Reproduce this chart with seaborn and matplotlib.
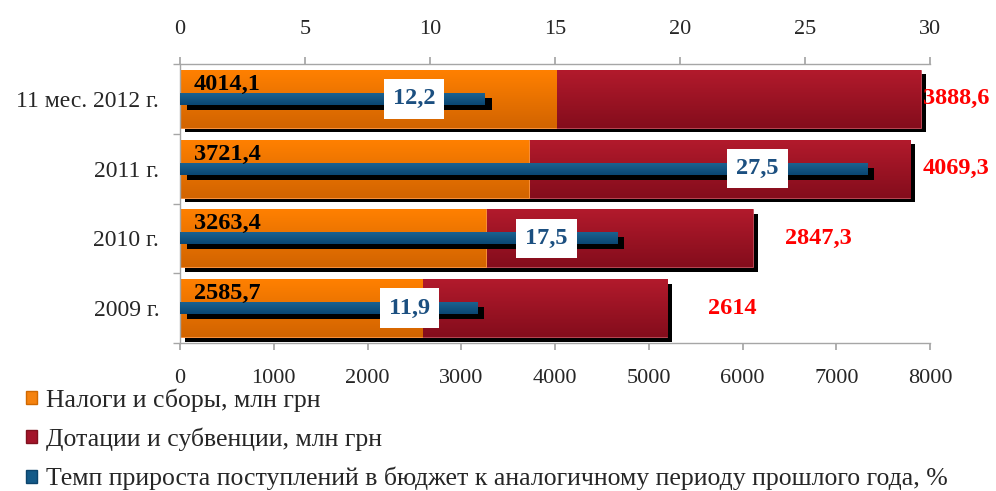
import numpy as np
import pandas as pd
import matplotlib
matplotlib.use("Agg")
import matplotlib.pyplot as plt
import matplotlib.patheffects as pe
from matplotlib.colors import LinearSegmentedColormap
from matplotlib.patches import Patch
import seaborn as sns

# ---- data ----
categories = ["11 мес. 2012 г.", "2011 г.", "2010 г.", "2009 г."]
taxes = [4014.1, 3721.4, 3263.4, 2585.7]
subsidies = [3888.6, 4069.3, 2847.3, 2614.0]
growth = [12.2, 27.5, 17.5, 11.9]
tax_labels = ["4014,1", "3721,4", "3263,4", "2585,7"]
sub_labels = ["3888,6", "4069,3", "2847,3", "2614"]
growth_labels = ["12,2", "27,5", "17,5", "11,9"]
legend_labels = ["Налоги и сборы, млн грн",
                 "Дотации и субвенции, млн грн",
                 "Темп прироста поступлений в бюджет к аналогичному периоду прошлого года, %"]
bottom_ticks = [0, 1000, 2000, 3000, 4000, 5000, 6000, 7000, 8000]
top_ticks = [0, 5, 10, 15, 20, 25, 30]

df = pd.DataFrame({"cat": categories, "taxes": taxes, "subs": subsidies, "growth": growth})
df["total"] = df["taxes"] + df["subs"]

# ---- style ----
sns.set_theme(style="white")
plt.rcParams["font.family"] = ["Liberation Serif", "DejaVu Serif"]

ORANGE = ("#FF8000", "#D26400")
RED = ("#B21A2C", "#840D1C")
BLUE = ("#1B6290", "#0A4672")
GRAY = "#A6A6A6"

fig = plt.figure(figsize=(9.96, 4.91), dpi=100)
L, R, T, B = 180, 930, 64, 343
ax = fig.add_axes([L / 996, 1 - B / 491, (R - L) / 996, (B - T) / 491])

shadow_main = [pe.SimplePatchShadow(offset=(3.6, -3.2), shadow_rgbFace="black", alpha=1.0), pe.Normal()]
shadow_blue = [pe.SimplePatchShadow(offset=(5.0, -3.6), shadow_rgbFace="black", alpha=1.0), pe.Normal()]

sns.barplot(data=df, x="total", y="cat", color=RED[0], width=0.83, ax=ax,
            saturation=1, edgecolor="#C8505E", linewidth=0.6)
n_red = len(ax.patches)
sns.barplot(data=df, x="taxes", y="cat", color=ORANGE[0], width=0.83, ax=ax,
            saturation=1, edgecolor="#FF9A40", linewidth=0.6)
red_patches = ax.patches[:n_red]
orange_patches = ax.patches[n_red:]
for p in red_patches:
    p.set_path_effects(shadow_main)


def gradient_fill(axis, patches, cols):
    cmap = LinearSegmentedColormap.from_list("g", list(cols))
    grad = np.linspace(0, 1, 64).reshape(-1, 1)
    for p in patches:
        x0, y0, w, h = p.get_x(), p.get_y(), p.get_width(), p.get_height()
        im = axis.imshow(grad, extent=(x0, x0 + w, y0 + h, y0), origin="upper",
                         aspect="auto", cmap=cmap, zorder=p.get_zorder() + 0.01,
                         interpolation="bilinear")
        im.set_clip_path(p)


gradient_fill(ax, red_patches, RED)
for p in orange_patches:
    p.set_zorder(red_patches[0].get_zorder() + 0.5)
gradient_fill(ax, orange_patches, ORANGE)

ax.set_xlim(0, 8000)
ax.set_ylim(len(categories) - 0.5, -0.5)
ax.set_xlabel("")
ax.set_ylabel("")
ax.set_xticks(bottom_ticks)
ax.set_xticklabels([str(t) for t in bottom_ticks], fontsize=16)
ax.tick_params(axis="x", which="major", direction="out", length=5, color=GRAY, pad=14, bottom=True)
ax.set_yticks(range(len(categories)))
ax.set_yticklabels(categories, fontsize=17)
ax.set_yticks(np.arange(-0.5, len(categories), 1.0), minor=True)
ax.tick_params(axis="y", which="major", length=0, pad=15, left=True)
ax.tick_params(axis="y", which="minor", length=5, color=GRAY, left=True)
for s in ["top", "right"]:
    ax.spines[s].set_visible(False)
for s in ["left", "bottom"]:
    ax.spines[s].set_color(GRAY)
    ax.spines[s].set_linewidth(1.0)

# ---- growth bars on top axis ----
ax2 = ax.twiny()
sns.barplot(data=df, x="growth", y="cat", color=BLUE[0], width=0.17, ax=ax2,
            saturation=1, linewidth=0)
blue_patches = list(ax2.patches)
for p in blue_patches:
    p.set_path_effects(shadow_blue)
gradient_fill(ax2, blue_patches, BLUE)
ax2.set_xlim(0, 30)
ax2.set_ylim(len(categories) - 0.5, -0.5)
ax2.set_xlabel("")
ax2.set_ylabel("")
ax2.set_xticks(top_ticks)
ax2.set_xticklabels([str(t) for t in top_ticks], fontsize=16)
ax2.tick_params(axis="x", direction="out", length=5, color=GRAY, pad=13, top=True)
for s in ["left", "right", "bottom"]:
    ax2.spines[s].set_visible(False)
ax2.spines["top"].set_color(GRAY)
ax2.spines["top"].set_linewidth(1.0)

# ---- labels ----
px_per_unit = (R - L) / 8000
for i in range(len(categories)):
    ax2.annotate(tax_labels[i], xy=(0, i), xytext=(10, 10.5), textcoords="offset points",
                 ha="left", va="center", fontsize=17.5, fontweight="bold", color="black", zorder=10)
    end_px = L + df["total"][i] * px_per_unit
    off_px = min(65, 956 - end_px)
    ax.annotate(sub_labels[i], xy=(df["total"][i], i), xytext=(off_px * 0.72, 0),
                textcoords="offset points", ha="center", va="center", fontsize=17.5,
                fontweight="bold", color="#FF0000", annotation_clip=False, zorder=10)

blue_shift_px = [-71, -110, -71, -68]
for i in range(len(categories)):
    ax2.annotate(growth_labels[i], xy=(growth[i], i), xytext=(blue_shift_px[i] * 0.72, 0),
                 textcoords="offset points", ha="center", va="center", fontsize=17.5,
                 fontweight="bold", color="#1B4F80", zorder=12,
                 bbox=dict(boxstyle="square,pad=0.38", fc="white", ec="none"))

# ---- legend ----
handles = [Patch(facecolor="#F5820E", edgecolor="#D06800"),
           Patch(facecolor="#A3142A", edgecolor="#80101E"),
           Patch(facecolor="#145A88", edgecolor="#0C446C")]
fig.legend(handles, legend_labels, loc="upper left", bbox_to_anchor=(26 / 996, 1 - 388 / 491),
           frameon=False, fontsize=18.5, handlelength=0.42, handleheight=0.42,
           handletextpad=0.35, labelspacing=0.62, borderpad=0, borderaxespad=0)

fig.savefig("out.png", dpi=100)
